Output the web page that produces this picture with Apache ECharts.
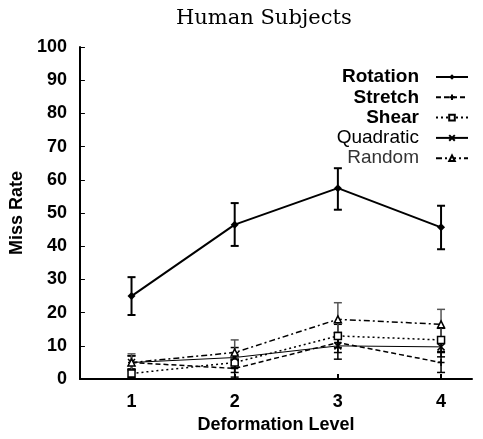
<!DOCTYPE html>
<html>
<head>
<meta charset="utf-8">
<script src="https://cdn.jsdelivr.net/npm/echarts@6/dist/echarts.min.js"></script>
<style>
  html, body { margin: 0; padding: 0; background: #fff; }
  #chart { width: 483px; height: 439px; }
</style>
</head>
<body>
<div id="chart"></div>
<script>
// deformation levels on the x axis
const levels = [1, 2, 3, 4];
const yTicks = [0, 10, 20, 30, 40, 50, 60, 70, 80, 90, 100];

// miss rate (%) per series, with error bar low / high
const rotation = [25, 46.5, 57.5, 45.7];
const rotationLow = [19.3, 40.1, 51, 39.1];
const rotationHigh = [30.7, 53, 63.5, 52.2];

const stretch = [5, 3.2, 11, 5];
const stretchLow = [3, 0.6, 8, 2];
const stretchHigh = [7, 5.8, 14, 8];

const shear = [1.7, 5, 13, 11.8];
const shearLow = [0.5, 2, 9.5, 8.3];
const shearHigh = [2.9, 8, 16.5, 15.3];

const quadratic = [5, 6.5, 10, 9.7];
const quadraticLow = [3, 3.5, 6, 6.7];
const quadraticHigh = [7, 9.5, 14, 12.7];

const random = [5, 8, 18, 16.5];
const randomLow = [2.5, 4.2, 13, 12];
const randomHigh = [7.6, 11.8, 23, 21];

const chart = echarts.init(document.getElementById("chart"));

const plus = "path://M0,5L10,5M5,0L5,10";
const cross = "path://M0,0L10,10M10,0L0,10";

function pts(vals) {
  return vals.map((v, i) => [levels[i], v]);
}

function errBars(name, low, high, color, width) {
  return {
    name: name + " err",
    type: "custom",
    silent: true,
    data: low.map((l, i) => [levels[i], l, high[i]]),
    renderItem: function (params, api) {
      const a = api.coord([api.value(0), api.value(1)]);
      const b = api.coord([api.value(0), api.value(2)]);
      const w = 4;
      const st = { stroke: color, lineWidth: width };
      return {
        type: "group",
        children: [
          { type: "line", shape: { x1: a[0], y1: a[1], x2: b[0], y2: b[1] }, style: st },
          { type: "line", shape: { x1: a[0] - w, y1: a[1], x2: a[0] + w, y2: a[1] }, style: st },
          { type: "line", shape: { x1: b[0] - w, y1: b[1], x2: b[0] + w, y2: b[1] }, style: st }
        ]
      };
    },
    z: 1
  };
}

function lineSeries(name, vals, symbol, size, dash, width, itemStyle) {
  return {
    name: name,
    type: "line",
    color: "#000",
    data: pts(vals),
    symbol: symbol,
    symbolSize: size,
    lineStyle: { color: "#000", width: width, type: dash },
    itemStyle: itemStyle,
    z: 3
  };
}

const legendFont = { fontFamily: "Liberation Sans, Arial, sans-serif", fontSize: 19, color: "#000", lineHeight: 20, padding: [0, 12, 0, 0] };

chart.setOption({
  animation: false,
  title: {
    text: "Human Subjects",
    left: 171,
    top: 3,
    textStyle: { fontFamily: "DejaVu Serif, serif", fontWeight: "normal", fontSize: 21, color: "#000" }
  },
  legend: {
    orient: "vertical",
    align: "right",
    right: 9,
    top: 62,
    itemWidth: 32,
    itemHeight: 7,
    itemGap: 0.3,
    selectedMode: false,
    data: [
      { name: "Rotation", textStyle: Object.assign({}, legendFont, { fontWeight: "bold" }) },
      { name: "Stretch", textStyle: Object.assign({}, legendFont, { fontWeight: "bold" }) },
      { name: "Shear", textStyle: Object.assign({}, legendFont, { fontWeight: "bold" }) },
      { name: "Quadratic", textStyle: legendFont },
      { name: "Random", textStyle: Object.assign({}, legendFont, { color: "#333" }) }
    ]
  },
  grid: { left: 72, right: 11, top: 47, bottom: 52 },
  xAxis: {
    type: "value",
    min: 0.5,
    max: 4.3,
    name: "Deformation Level",
    nameLocation: "middle",
    nameGap: 32,
    nameTextStyle: { fontFamily: "Liberation Sans, Arial, sans-serif", fontWeight: "bold", fontSize: 18, color: "#000" },
    axisLine: { lineStyle: { color: "#000", width: 2 } },
    axisTick: { inside: true, length: 5, customValues: levels, lineStyle: { color: "#000", width: 2 } },
    axisLabel: { customValues: levels, margin: 14, fontFamily: "Liberation Sans, Arial, sans-serif", fontWeight: "bold", fontSize: 18, color: "#000" },
    splitLine: { show: false }
  },
  yAxis: {
    type: "value",
    min: 0,
    max: 100,
    interval: 10,
    name: "Miss Rate",
    nameLocation: "middle",
    nameGap: 44,
    nameTextStyle: { fontFamily: "Liberation Sans, Arial, sans-serif", fontWeight: "bold", fontSize: 18, color: "#000" },
    axisLine: { show: true, lineStyle: { color: "#000", width: 2 } },
    axisTick: { inside: true, length: 5, lineStyle: { color: "#000", width: 1 } },
    axisLabel: {
      margin: 13,
      fontFamily: "Liberation Sans, Arial, sans-serif",
      fontWeight: "bold",
      fontSize: 18,
      color: "#000",
      formatter: v => (yTicks.indexOf(v) >= 0 ? String(v) : "")
    },
    splitLine: { show: false }
  },
  series: [
    errBars("Rotation", rotationLow, rotationHigh, "#000", 2),
    errBars("Stretch", stretchLow, stretchHigh, "#000", 1.5),
    errBars("Shear", shearLow, shearHigh, "#000", 1.5),
    errBars("Quadratic", quadraticLow, quadraticHigh, "#000", 1.5),
    errBars("Random", randomLow, randomHigh, "#555", 1.5),
    lineSeries("Rotation", rotation, "diamond", 8, "solid", 2, { color: "#000" }),
    lineSeries("Stretch", stretch, plus, 7, [5, 3], 1.5, { color: "#000", borderColor: "#000", borderWidth: 1.5 }),
    lineSeries("Shear", shear, "rect", 7, [2, 3], 1.5, { color: "#fff", borderColor: "#000", borderWidth: 1.5 }),
    lineSeries("Quadratic", quadratic, cross, 7, "solid", 1, { color: "#000", borderColor: "#000", borderWidth: 1.5 }),
    lineSeries("Random", random, "triangle", 7, [6, 3, 2, 3], 1.5, { color: "#fff", borderColor: "#000", borderWidth: 1.5 })
  ]
});
</script>
</body>
</html>
